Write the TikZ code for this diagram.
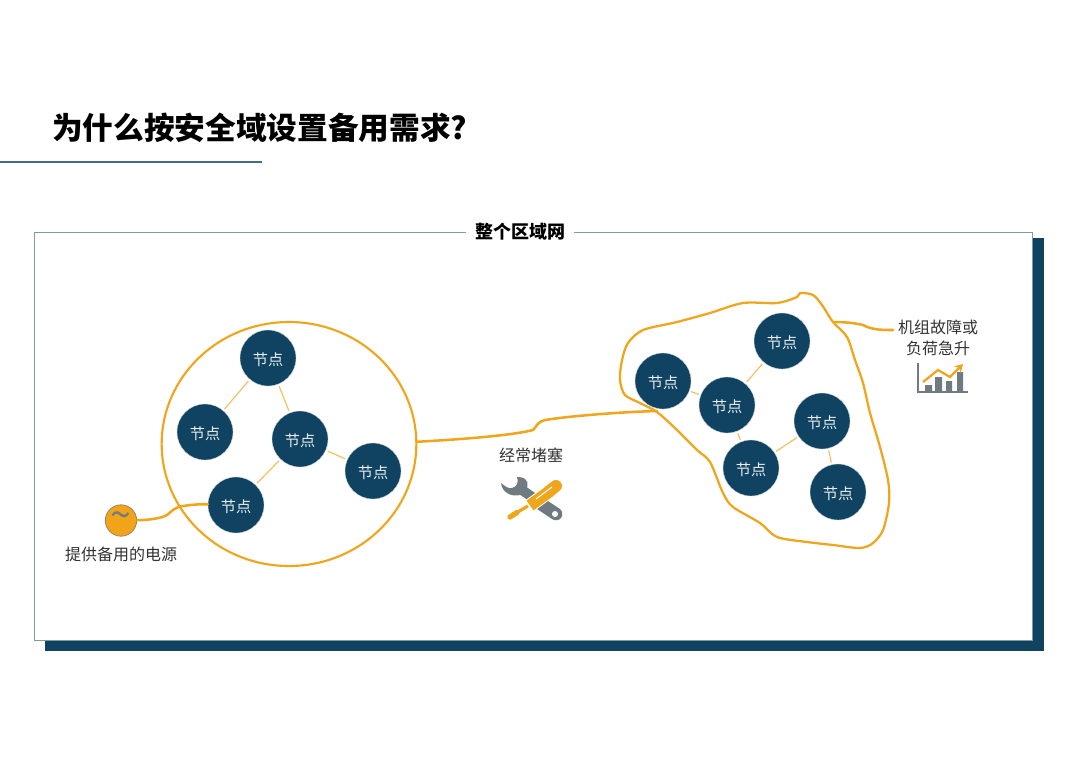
\documentclass[tikz,border=0pt]{standalone}
\usepackage{fontspec}
\setmainfont{Noto Sans CJK SC}
\usetikzlibrary{shapes.geometric, arrows.meta, positioning, calc}
\definecolor{navy}{HTML}{0F4361}
\definecolor{amber}{HTML}{F0A61C}
\definecolor{rulecol}{HTML}{3F6F80}
\definecolor{framecol}{HTML}{7F9C9F}
\definecolor{inkgray}{HTML}{6F7B80}
\definecolor{inkdark}{HTML}{333333}

\begin{document}
\begin{tikzpicture}[
      x=0.75pt, y=-0.75pt,
      point/.style={circle, fill=navy, draw=white!75!navy, line width=0.3pt, minimum size=42pt, inner sep=0pt, text=white!90!navy, text height=12pt, text depth=1.3pt, font=\fontsize{11.4}{13}\selectfont},
      zonecircle/.style={ellipse, draw=amber, line width=1.6pt, minimum width=191pt, minimum height=183pt, inner sep=0pt},
      link/.style={draw=amber!70!white, line width=0.9pt, shorten >=1.5pt, shorten <=1.5pt},
      wire/.style={draw=amber, line width=1.9pt, line cap=round},
      label/.style={text=inkdark, align=center, font=\fontsize{12}{15.5}\selectfont}
    ]
    \useasboundingbox (0,0) rectangle (1080,761);

    % heading
    \node[anchor=west, inner sep=0pt, text=black, font=\fontsize{23}{28}\selectfont\bfseries] (title) at (52,128) {为什么按安全域设置备用需求?};
    \coordinate (ruleL) at (0,162);
    \coordinate (ruleR) at (262,162);
    \draw[rulecol, line width=1.1pt] (ruleL) -- (ruleR);

    % panel
    \fill[navy] (45,238) rectangle (1044,651);
    \draw[fill=white, draw=framecol, line width=0.55pt] (34,232) rectangle (1032,640);
    \node[fill=white, inner xsep=7pt, inner ysep=2pt, text=black, font=\fontsize{13.5}{16}\selectfont\bfseries] (region) at (520,232) {整个区域网};

    % left zone
    \node[zonecircle] (zone) at (289,444) {};
    \node[point] (a1) at (268,358) {节点};
    \node[point] (a2) at (205,432) {节点};
    \node[point] (a3) at (300,439) {节点};
    \node[point] (a4) at (373,471) {节点};
    \node[point] (a5) at (236,505) {节点};

    % right zone
    \draw[amber, line width=1.7pt] plot[smooth cycle, tension=0.5] coordinates {
      (800,293) (813,295) (822,305) (833,322) (847,337) (855,360) (863,383) (870,413)
      (880,447) (888,480) (889,503) (883,530) (873,543) (860,548) (833,545) (807,542)
      (777,537) (760,523) (733,507) (723,493) (710,462) (697,450) (677,430) (657,412)
      (640,403) (625,395) (620,380) (622,360) (628,343) (643,330) (677,322) (710,313)
      (743,303) (777,303) (797,297)};
    \coordinate (blobW) at (657,411);
    \coordinate (blobE) at (833,322);
    \coordinate (faultEnd) at (893,330);
    \node[point] (b1) at (663,381) {节点};
    \node[point] (b2) at (782,341) {节点};
    \node[point] (b3) at (727,405) {节点};
    \node[point] (b4) at (822,421) {节点};
    \node[point] (b5) at (751,468) {节点};
    \node[point] (b6) at (838,492) {节点};

    \foreach \from/\to in {a1/a2, a1/a3, a3/a4, a3/a5, b1/b3, b2/b3, b3/b5, b4/b5, b4/b6}
      \draw[link] (\from) -- (\to);

    % source
    \node[circle, fill=amber!92!orange, draw=inkgray!70!amber, line width=0.6pt, minimum size=23.5pt, inner sep=0pt, text=inkgray, font=\fontsize{28}{28}\selectfont] (source) at (121,520.5) {\raisebox{-1.5pt}{\textasciitilde}};
    \draw[wire] (source) .. controls (150,520) and (162,518) .. (167,515) .. controls (172,511) and (175,507) .. (183,506) .. controls (190,505) and (198,504) .. (a5);
    \draw[wire] (zone.1) .. controls (450,440) and (510,436) .. (533,430) .. controls (538,425) and (536,423) .. (545,420) .. controls (570,416) and (620,412) .. (blobW);
    \draw[wire] (blobE) .. controls (845,322) and (855,323) .. (863,325) .. controls (872,330) and (882,330) .. (faultEnd);

    % labels
    \node[label] (sourceText) at (121,554) {提供备用的电源};
    \node[label] (jamText) at (531,455) {经常堵塞};
    \node[label] (faultText) at (938,338) {机组故障或\\负荷急升};

    % spanner and screwdriver
    \fill[inkgray] (501,483) .. controls (502,493) and (512,497) .. (520,495) .. controls (528,491) and (530,482) .. (525,479) .. controls (522,477) and (519,477) .. (517,477) .. controls (519,482) and (517,487) .. (512,488) .. controls (508,489) and (505,486) .. (501,483) -- cycle;
    \draw[inkgray, line width=7.5pt] (522,490) -- (535,499);
    \draw[inkgray, line width=9.5pt, line cap=round] (541,504) -- (556,514);
    \fill[white] (555,514) circle (3);
    \draw[white, line width=10.5pt] (530,505.5) -- (549,491.5);
    \draw[white, line width=4.5pt] (527,507) -- (514,514);
    \draw[amber, line width=9pt, line cap=round] (549,491.5) -- (556,486);
    \draw[amber, line width=9pt] (530,505.5) -- (550,491);
    \draw[white, line width=0.8pt] (536,499) -- (552,487);
    \draw[amber, line width=2.4pt] (528,506) -- (516,513);
    \draw[amber, line width=4pt, line cap=round] (517,512.5) -- (510,517);

    % chart
    \fill[inkgray] (925,385) rectangle (932,392) (935,377) rectangle (942,392) (946,381) rectangle (952,392) (957,372) rectangle (963,392);
    \draw[inkgray, line width=1.6pt] (918,363) -- (918,392) -- (968,392);
    \draw[amber, line width=1.7pt, -{Stealth[length=6pt,width=7pt]}] (923,382) -- (938,370) -- (950,377) -- (963,364);
  \end{tikzpicture}
\end{document}
